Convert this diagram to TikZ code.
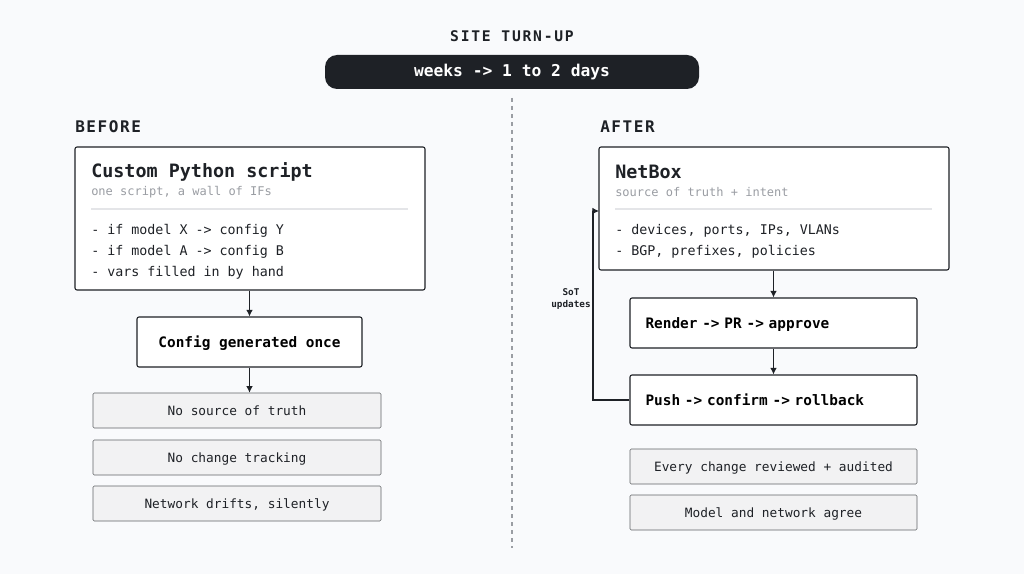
\documentclass[tikz,border=0pt]{standalone}
\usepackage{fontspec}
\setmonofont{DejaVu Sans Mono}[BoldFont={DejaVu Sans Mono Bold}]
\usetikzlibrary{arrows.meta}
\definecolor{ink}{HTML}{1E2126}
\definecolor{pale}{HTML}{F9FAFC}
\definecolor{muted}{HTML}{9A9DA3}
\definecolor{rule}{HTML}{E4E5E8}
\definecolor{note}{HTML}{F2F2F3}
\begin{document}
\begin{tikzpicture}[x=0.75pt,y=-0.75pt,
    % boxes
    stage/.style={draw=ink,thick,fill=white,rounded corners=1.5pt,font=\ttfamily\bfseries\fontsize{10.8}{12}\selectfont,text depth=0pt},
    lack/.style={draw=ink!70,fill=note,rounded corners=1pt,font=\ttfamily\fontsize{9.6}{11}\selectfont,text=ink,text depth=0pt},
    big/.style={draw=ink,thick,fill=white,rounded corners=1.5pt},
    head/.style={font=\ttfamily\bfseries\fontsize{12}{14}\selectfont\addfontfeature{LetterSpace=10},text=ink},
    line/.style={anchor=west,inner sep=0pt,yshift=-1.5pt,font=\ttfamily\fontsize{10}{11}\selectfont,text=ink},
    % connectors
    flow/.style={-{Latex[length=5pt,width=5pt]},thick,draw=ink}]
  \fill[pale] (0,0) rectangle (1024,574);
  \node (title) at (512,36) [head,font=\ttfamily\bfseries\fontsize{11}{12}\selectfont\addfontfeature{LetterSpace=12}] {SITE TURN-UP};
  \node (pill) at (512,72) [fill=ink,rounded corners=9pt,minimum width=374*0.75pt,minimum height=34*0.75pt,text=white,font=\ttfamily\bfseries\fontsize{12.2}{14}\selectfont] {weeks -> 1 to 2 days};
  \coordinate (split top) at (512,98);
  \coordinate (split bot) at (512,548);
  \draw[dashed,draw=muted,thick] (split top) -- (split bot);
  \node (before) at (75,127) [head,anchor=west,inner sep=0pt] {BEFORE};
  \node (after) at (600,127) [head,anchor=west,inner sep=0pt] {AFTER};
  % before column
  \draw[big] (75,147) rectangle (425,290);
  \node (script) at (75,147) [minimum width=350*0.75pt,minimum height=143*0.75pt,anchor=north west] {};
  \node at (91,170) [line,font=\ttfamily\bfseries\fontsize{13.8}{16}\selectfont] {Custom Python script};
  \node at (91,190) [line,font=\ttfamily\fontsize{9}{11}\selectfont,text=muted] {one script, a wall of IFs};
  \draw[rule,thick] (91,209) -- (408,209);
  \node at (91,229) [line] {- if model X -> config Y};
  \node at (91,250) [line] {- if model A -> config B};
  \node at (91,271) [line] {- vars filled in by hand};
  \node (once) at (249.5,342) [stage,minimum width=225*0.75pt,minimum height=50*0.75pt] {Config generated once};
  \node (nosot) at (237,410.5) [lack,minimum width=288*0.75pt,minimum height=35*0.75pt] {No source of truth};
  \node (notrack) at (237,457.5) [lack,minimum width=288*0.75pt,minimum height=35*0.75pt] {No change tracking};
  \node (drift) at (237,503.5) [lack,minimum width=288*0.75pt,minimum height=35*0.75pt] {Network drifts, silently};
  \draw[flow] (script.south -| once) -- (once);
  \draw[flow] (once.south) -- (once.south |- nosot.north);
  % after column
  \draw[big] (599,147) rectangle (949,270);
  \node (netbox) at (599,147) [minimum width=350*0.75pt,minimum height=123*0.75pt,anchor=north west] {};
  \node at (615,170) [line,font=\ttfamily\bfseries\fontsize{13.8}{16}\selectfont] {NetBox};
  \node at (615,190) [line,font=\ttfamily\fontsize{9}{11}\selectfont,text=muted] {source of truth + intent};
  \draw[rule,thick] (615,209) -- (932,209);
  \node at (615,229) [line] {- devices, ports, IPs, VLANs};
  \node at (615,250) [line] {- BGP, prefixes, policies};
  \node (render) at (773.5,323) [stage,minimum width=287*0.75pt,minimum height=50*0.75pt,text width=256*0.75pt] {Render -> PR -> approve};
  \node (push) at (773.5,400) [stage,minimum width=287*0.75pt,minimum height=50*0.75pt,text width=256*0.75pt] {Push -> confirm -> rollback};
  \node (review) at (773.5,466.5) [lack,minimum width=287*0.75pt,minimum height=35*0.75pt] {Every change reviewed + audited};
  \node (agree) at (773.5,512.5) [lack,minimum width=287*0.75pt,minimum height=35*0.75pt] {Model and network agree};
  \draw[flow] (netbox.south -| render) -- (render);
  \draw[flow] (render) -- (push);
  \draw[flow] (push.west) -- (593,400) -- (593,211) -- (599,211);
  \node (sot) at (571,299) [font=\ttfamily\bfseries\fontsize{7}{9}\selectfont,text=ink,align=center] {SoT\\updates};
\end{tikzpicture}
\end{document}
